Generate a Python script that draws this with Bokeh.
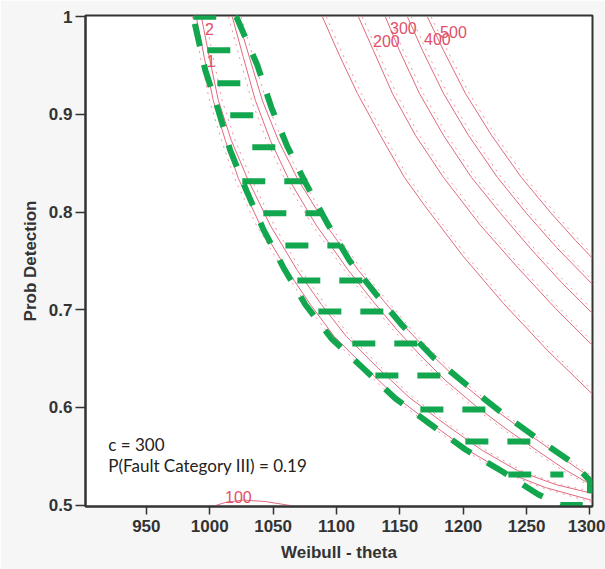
from bokeh.plotting import figure
from bokeh.models import Range1d, FixedTicker, CustomJSTickFormatter, Label
from bokeh.core.properties import value
from bokeh.embed import file_html
from bokeh.resources import INLINE

# ---------------- data ----------------
x_ticks = [950, 1000, 1050, 1100, 1150, 1200, 1250, 1300]
y_ticks = [0.5, 0.6, 0.7, 0.8, 0.9, 1.0]
y_tick_labels = ["0.5", "0.6", "0.7", "0.8", "0.9", "1"]

# contour band (levels 1 / 2) - solid lines
band_l1_theta = [989.4, 995.7, 1002.8, 1012.3, 1022.6, 1039.9, 1061.2, 1079.4, 1098.3, 1122.8, 1147.3, 1175.7, 1204.1, 1232.5, 1264.9, 1302.0]
band_l1_prob = [1.0, 0.9585, 0.9144, 0.8735, 0.8345, 0.7864, 0.7403, 0.7054, 0.6726, 0.6409, 0.6101, 0.5825, 0.5558, 0.5343, 0.5179, 0.5046]
band_l2_theta = [993.4, 999.7, 1006.8, 1017.0, 1029.7, 1047.8, 1069.1, 1088.1, 1107.8, 1132.3, 1157.5, 1186.0, 1215.2, 1242.8, 1272.8, 1302.0]
band_l2_prob = [1.0, 0.9585, 0.9144, 0.8735, 0.8345, 0.7864, 0.7403, 0.7054, 0.6726, 0.6409, 0.6101, 0.5825, 0.5558, 0.5353, 0.5210, 0.5118]
band_r1_theta = [1017.8, 1026.5, 1036.0, 1047.8, 1062.0, 1084.1, 1109.4, 1128.3, 1148.1, 1166.2, 1186.0, 1210.4, 1235.7, 1259.4, 1281.5, 1302.0]
band_r1_prob = [1.0, 0.9585, 0.9144, 0.8735, 0.8345, 0.7864, 0.7403, 0.7095, 0.6788, 0.6532, 0.6276, 0.6009, 0.5763, 0.5548, 0.5353, 0.5200]
band_r2_theta = [1021.8, 1031.3, 1041.5, 1054.1, 1069.1, 1092.0, 1117.3, 1137.0, 1156.7, 1175.7, 1196.2, 1221.5, 1247.5, 1271.2, 1292.5, 1302.0]
band_r2_prob = [1.0, 0.9585, 0.9144, 0.8735, 0.8345, 0.7864, 0.7403, 0.7095, 0.6788, 0.6532, 0.6276, 0.6009, 0.5763, 0.5548, 0.5353, 0.5272]

# contour band - dotted companions
band_l1d_theta = [986.4, 992.7, 999.8, 1009.3, 1019.6, 1036.9, 1058.2, 1076.4, 1095.3, 1119.8, 1144.3, 1172.7, 1201.1, 1229.5, 1261.9, 1302.0]
band_l1d_prob = [1.0, 0.9585, 0.9144, 0.8735, 0.8345, 0.7864, 0.7403, 0.7054, 0.6726, 0.6409, 0.6101, 0.5825, 0.5558, 0.5343, 0.5179, 0.5026]
band_l2d_theta = [996.4, 1002.7, 1009.8, 1020.0, 1032.7, 1050.8, 1072.1, 1091.1, 1110.8, 1135.3, 1160.5, 1189.0, 1218.2, 1245.8, 1275.8, 1302.0]
band_l2d_prob = [1.0, 0.9585, 0.9144, 0.8735, 0.8345, 0.7864, 0.7403, 0.7054, 0.6726, 0.6409, 0.6101, 0.5825, 0.5558, 0.5353, 0.5210, 0.5138]
band_r1d_theta = [1014.8, 1023.5, 1033.0, 1044.8, 1059.0, 1081.1, 1106.4, 1125.3, 1145.1, 1163.2, 1183.0, 1207.4, 1232.7, 1256.4, 1278.5, 1302.0]
band_r1d_prob = [1.0, 0.9585, 0.9144, 0.8735, 0.8345, 0.7864, 0.7403, 0.7095, 0.6788, 0.6532, 0.6276, 0.6009, 0.5763, 0.5548, 0.5353, 0.5180]
band_r2d_theta = [1024.8, 1034.3, 1044.5, 1057.1, 1072.1, 1095.0, 1120.3, 1140.0, 1159.7, 1178.7, 1199.2, 1224.5, 1250.5, 1274.2, 1295.5, 1302.0]
band_r2d_prob = [1.0, 0.9585, 0.9144, 0.8735, 0.8345, 0.7864, 0.7403, 0.7095, 0.6788, 0.6532, 0.6276, 0.6009, 0.5763, 0.5548, 0.5353, 0.5292]

# far-right contours (100 .. 500) - solid
c100_theta = [1088.9, 1102.3, 1116.5, 1134.6, 1153.6, 1169.4, 1199.4, 1231.7, 1266.5, 1302.0]
c100_prob = [1.0, 0.9606, 0.9216, 0.8786, 0.8355, 0.8069, 0.7556, 0.7065, 0.6583, 0.6135]
c200_theta = [1117.3, 1129.1, 1144.1, 1162.3, 1184.4, 1213.6, 1243.6, 1272.8, 1302.0]
c200_prob = [1.0, 0.9657, 0.9216, 0.8786, 0.8355, 0.7864, 0.7423, 0.7013, 0.6634]
c300_theta = [1138.6, 1149.6, 1165.4, 1184.4, 1206.5, 1229.4, 1253.0, 1277.5, 1302.0]
c300_prob = [1.0, 0.9657, 0.9216, 0.8786, 0.8355, 0.7987, 0.7628, 0.7280, 0.6962]
c400_theta = [1156.0, 1167.8, 1184.4, 1204.1, 1227.0, 1249.9, 1273.6, 1302.0]
c400_prob = [1.0, 0.9657, 0.9216, 0.8786, 0.8355, 0.7987, 0.7638, 0.7259]
c500_theta = [1171.7, 1184.4, 1201.7, 1222.3, 1245.9, 1268.8, 1288.6, 1302.0]
c500_prob = [1.0, 0.9657, 0.9216, 0.8786, 0.8355, 0.7997, 0.7710, 0.7526]

# far-right contours - dotted companions
c100d_theta = [1091.9, 1105.3, 1119.5, 1137.6, 1156.6, 1172.4, 1202.4, 1234.7, 1269.5, 1302.0]
c100d_prob = [1.0, 0.9606, 0.9216, 0.8786, 0.8355, 0.8069, 0.7556, 0.7065, 0.6583, 0.6170]
c200d_theta = [1120.3, 1132.1, 1147.1, 1165.3, 1187.4, 1216.6, 1246.6, 1275.8, 1302.0]
c200d_prob = [1.0, 0.9657, 0.9216, 0.8786, 0.8355, 0.7864, 0.7423, 0.7013, 0.6670]
c300d_theta = [1141.6, 1152.6, 1168.4, 1187.4, 1209.5, 1232.4, 1256.0, 1280.5, 1302.0]
c300d_prob = [1.0, 0.9657, 0.9216, 0.8786, 0.8355, 0.7987, 0.7628, 0.7280, 0.7000]
c400d_theta = [1159.0, 1170.8, 1187.4, 1207.1, 1230.0, 1252.9, 1276.6, 1302.0]
c400d_prob = [1.0, 0.9657, 0.9216, 0.8786, 0.8355, 0.7987, 0.7638, 0.7297]
c500d_theta = [1174.7, 1187.4, 1204.7, 1225.3, 1248.9, 1271.8, 1291.6, 1302.0]
c500d_prob = [1.0, 0.9657, 0.9216, 0.8786, 0.8355, 0.7997, 0.7710, 0.7560]

# small "100" arc at the bottom
arc100_theta = [1002.0, 1012.3, 1026.5, 1043.9, 1066.0]
arc100_prob = [0.4985, 0.5026, 0.5051, 0.5036, 0.4990]

# contour labels
label_text = ["2", "1", "100", "200", "300", "400", "500"]
label_theta = [999.7, 1000.9, 1022.6, 1139.4, 1152.8, 1179.6, 1192.3]
label_prob = [0.9872, 0.9544, 0.5087, 0.9749, 0.9887, 0.9769, 0.9846]

# green highlighted region outline
region_theta = [987.0, 1021.0, 1037.6, 1048.6, 1061.2, 1075.4, 1092.8, 1110.2, 1130.7, 1152.0, 1176.5,
                1203.3, 1230.1, 1258.5, 1287.0, 1300.0, 1300.0, 1276.7, 1259.3, 1230.9, 1201.7, 1173.3,
                1146.5, 1121.2, 1096.0, 1075.4, 1058.1, 1042.3, 1028.9, 1016.2, 1006.8, 996.5, 987.0]
region_prob = [1.0, 1.0, 0.9503, 0.9073, 0.8673, 0.8304, 0.7884, 0.7505, 0.7167, 0.6839, 0.6511,
               0.6224, 0.5948, 0.5681, 0.5425, 0.5250, 0.5000, 0.5000, 0.5108, 0.5343, 0.5569, 0.5835,
               0.6091, 0.6399, 0.6706, 0.7054, 0.7433, 0.7823, 0.8222, 0.8632, 0.9042, 0.9452, 1.0]

# green hatch lines inside the region
hatch_prob = [0.9657, 0.9319, 0.8991, 0.8663, 0.8315, 0.7987, 0.7659, 0.7300, 0.6983, 0.6655, 0.6327, 0.5978, 0.5651, 0.5312]
hatch_start = [998.1, 1006.0, 1016.2, 1033.6, 1025.7, 1042.3, 1059.7, 1069.1, 1085.7, 1112.5, 1130.7, 1166.2, 1201.7, 1235.6]
hatch_end = [1017.8, 1025.7, 1035.2, 1053.3, 1077.0, 1087.3, 1103.1, 1121.2, 1138.6, 1164.6, 1183.6, 1217.5, 1253.0, 1279.1]

note_lines = ["c = 300", "P(Fault Category III) = 0.19"]

# ---------------- figure ----------------
p = figure(width=605, height=569, output_backend="svg", toolbar_location=None,
           x_range=Range1d(902, 1302), y_range=Range1d(0.4985, 1.0013),
           min_border_left=85, min_border_right=13, min_border_top=15, min_border_bottom=63,
           x_axis_label="Weibull - theta", y_axis_label="Prob Detection")
p.background_fill_color = "white"
p.border_fill_color = "#f6f6f6"
p.outline_line_color = "#333333"
p.outline_line_width = 2
p.grid.visible = False

p.xaxis.ticker = FixedTicker(ticks=x_ticks)
p.yaxis.ticker = FixedTicker(ticks=y_ticks)
p.yaxis.formatter = CustomJSTickFormatter(args=dict(tvals=y_ticks, tlabels=y_tick_labels), code="""
const i = tvals.findIndex(t => Math.abs(t - tick) < 1e-9);
return i >= 0 ? tlabels[i] : "";
""")

for ax in (p.xaxis[0], p.yaxis[0]):
    ax.axis_line_color = "#333333"
    ax.axis_line_width = 2
    ax.major_tick_line_color = "#333333"
    ax.major_tick_line_width = 1.5
    ax.minor_tick_line_color = None
    ax.major_tick_in = 0
    ax.major_label_text_font = "Liberation Sans"
    ax.major_label_text_font_size = "17px"
    ax.major_label_text_font_style = "bold"
    ax.major_label_text_color = "#333333"
    ax.axis_label_text_font = "Liberation Sans"
    ax.axis_label_text_font_size = "17px"
    ax.axis_label_text_font_style = "bold"
    ax.axis_label_text_color = "#333333"

p.xaxis.major_tick_out = 8
p.xaxis.major_label_standoff = 5
p.xaxis.axis_label_standoff = 8
p.yaxis.major_tick_out = 10
p.yaxis.major_label_standoff = 3
p.yaxis.axis_label_standoff = 6

solid_color = "#e06a7e"
dot_color = "#ec94a2"

solid_xs = [band_l1_theta, band_l2_theta, band_r1_theta, band_r2_theta,
            c100_theta, c200_theta, c300_theta, c400_theta, c500_theta, arc100_theta]
solid_ys = [band_l1_prob, band_l2_prob, band_r1_prob, band_r2_prob,
            c100_prob, c200_prob, c300_prob, c400_prob, c500_prob, arc100_prob]
dot_xs = [band_l1d_theta, band_l2d_theta, band_r1d_theta, band_r2d_theta,
          c100d_theta, c200d_theta, c300d_theta, c400d_theta, c500d_theta]
dot_ys = [band_l1d_prob, band_l2d_prob, band_r1d_prob, band_r2d_prob,
          c100d_prob, c200d_prob, c300d_prob, c400d_prob, c500d_prob]

p.multi_line(xs=dot_xs, ys=dot_ys, line_color=dot_color, line_width=1, line_dash="2 5")
p.multi_line(xs=solid_xs, ys=solid_ys, line_color=solid_color, line_width=1, line_join="round")

p.text(x=label_theta, y=label_prob, text=label_text, text_font=value("Liberation Sans"),
       text_font_size="16px", text_color="#e0506a", text_align="center", text_baseline="middle")

green = "#12a64e"
p.line(region_theta, region_prob, line_color=green, line_width=6, line_dash="23 19")
p.segment(x0=hatch_start, y0=hatch_prob, x1=hatch_end, y1=hatch_prob,
          line_color=green, line_width=6, line_dash="23 19")

p.add_layout(Label(x=920, y=0.5620, text=note_lines[0], text_font="Lato", text_font_size="17px",
                   text_color="#222222", text_baseline="alphabetic"))
p.add_layout(Label(x=920, y=0.5405, text=note_lines[1], text_font="Lato", text_font_size="17px",
                   text_color="#222222", text_baseline="alphabetic"))

open("out.html", "w").write(file_html(p, INLINE))
